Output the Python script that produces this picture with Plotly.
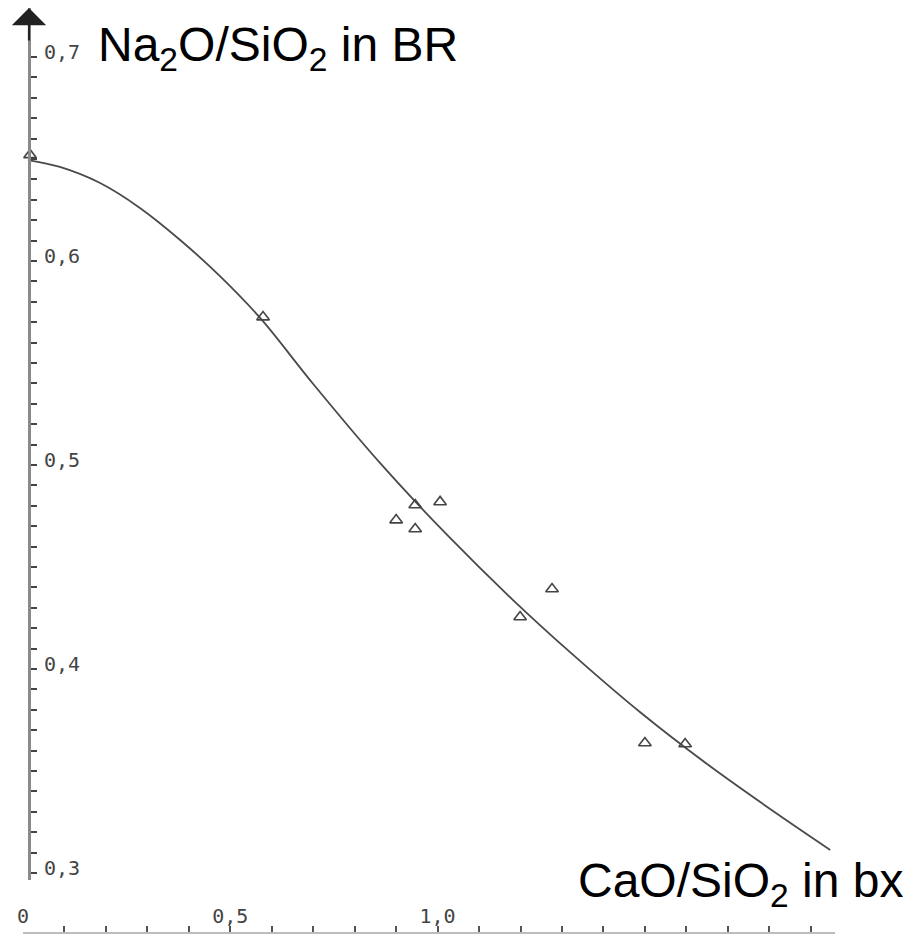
import plotly.graph_objects as go

# Fitted curve
curve_x = [0.012, 0.089, 0.186, 0.282, 0.379, 0.475, 0.572, 0.700,
           0.861, 1.023, 1.182, 1.327, 1.488, 1.650, 1.809, 1.947]
curve_y = [0.6495, 0.6461, 0.6382, 0.6260, 0.6103, 0.5926, 0.5721, 0.5397,
           0.5010, 0.4657, 0.4338, 0.4069, 0.3789, 0.3534, 0.3304, 0.3113]

# Measured points (triangles)
pts_x = [0.017, 0.579, 0.900, 0.946, 0.946, 1.006, 1.199, 1.276, 1.500, 1.597]
pts_y = [0.652, 0.5725, 0.4730, 0.4804, 0.4686, 0.4819, 0.4255, 0.4392, 0.3637, 0.3632]

# Tick labels
x_tick_vals = [round(i * 0.1, 1) for i in range(0, 20)]
x_tick_labels = {0.0: "0", 0.5: "0,5", 1.0: "1,0"}
y_tick_vals = [round(0.30 + i * 0.01, 2) for i in range(0, 41)]
y_tick_labels = {0.3: "0,3", 0.4: "0,4", 0.5: "0,5", 0.6: "0,6", 0.7: "0,7"}

y_title = "Na<sub>2</sub>O/SiO<sub>2</sub> in BR"
x_title = "CaO/SiO<sub>2</sub> in bx"

W, H = 924, 936
ml, mr, mt, mb = 23, 89, 8, 3
pw = W - ml - mr
ph = H - mt - mb
px_per_x = 414.6
x_max = pw / px_per_x

def px_to_paper_x(px):
    return (px - ml) / pw

def px_to_paper_y(py):
    return (H - mb - py) / ph

tick_font = dict(family="DejaVu Sans Mono", size=20, color="#444")

fig = go.Figure()
fig.add_trace(go.Scatter(x=curve_x, y=curve_y, mode="lines",
                         line=dict(color="#4a4a4a", width=1.8, shape="spline", smoothing=1.0),
                         hoverinfo="skip"))
fig.add_trace(go.Scatter(x=pts_x, y=pts_y, mode="markers",
                         marker=dict(symbol="triangle-up-open", size=11, color="#444",
                                     line=dict(width=1.6, color="#444"))))

fig.update_layout(
    width=W, height=H,
    margin=dict(l=ml, r=mr, t=mt, b=mb, autoexpand=False),
    paper_bgcolor="white", plot_bgcolor="white",
    showlegend=False,
    xaxis=dict(range=[0, x_max], anchor="free", position=0, automargin=False,
               showgrid=False, zeroline=False,
               showline=True, linecolor="#bdbdbd", linewidth=2,
               tickmode="array", tickvals=x_tick_vals,
               ticktext=[x_tick_labels.get(v, "") for v in x_tick_vals],
               ticks="inside", ticklen=6, tickwidth=2, tickcolor="#555",
               ticklabelposition="inside", ticklabeloverflow="allow", tickfont=tick_font),
    yaxis=dict(range=[0.29657, 0.72402], domain=[(H - mb - 880) / ph, 1],
               anchor="free", position=px_to_paper_x(29), automargin=False,
               showgrid=False, zeroline=False,
               showline=True, linecolor="#8a8a8a", linewidth=3,
               tickmode="array", tickvals=y_tick_vals,
               ticktext=[y_tick_labels.get(v, "") for v in y_tick_vals],
               ticks="inside", ticklen=6, tickwidth=2, tickcolor="#444",
               ticklabelposition="inside", ticklabeloverflow="allow",
               ticklabelshift=-5, ticklabelstandoff=8,
               tickfont=tick_font),
)

fig.add_annotation(xref="paper", yref="paper", x=px_to_paper_x(29), y=px_to_paper_y(8),
                   ax=0, ay=34, text="", showarrow=True, arrowhead=1, arrowsize=2.6,
                   arrowwidth=2.2, arrowcolor="#222")

fig.add_annotation(xref="paper", yref="paper", x=px_to_paper_x(96), y=px_to_paper_y(48),
                   xanchor="left", yanchor="middle", text=y_title, showarrow=False,
                   font=dict(family="Liberation Sans, Arial", size=48, color="black"))
fig.add_annotation(xref="paper", yref="paper", x=px_to_paper_x(905), y=px_to_paper_y(884),
                   xanchor="right", yanchor="middle", text=x_title, showarrow=False,
                   font=dict(family="Liberation Sans, Arial", size=48, color="black"))

fig.write_html("out.html", config={"displayModeBar": False},
               post_script="document.body.style.margin='0';")
